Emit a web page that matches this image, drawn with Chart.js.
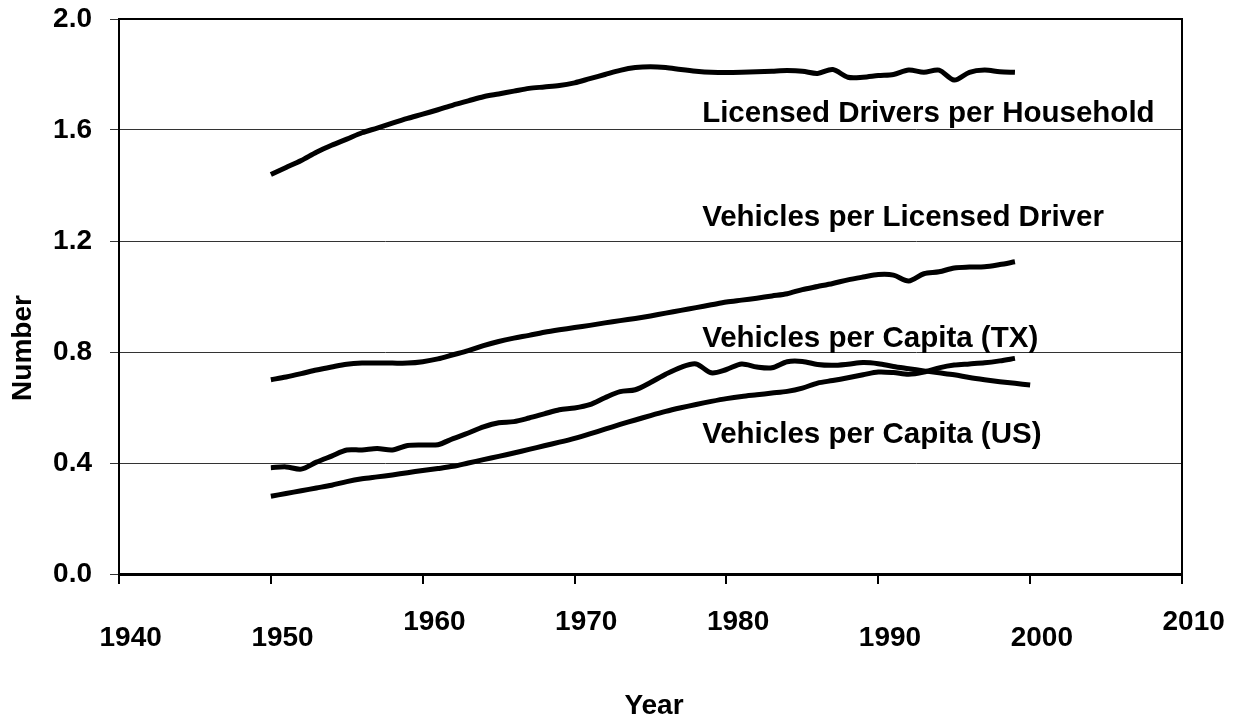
<!DOCTYPE html>
<html>
<head>
<meta charset="utf-8">
<script src="https://cdn.jsdelivr.net/npm/chart.js@4.4.1/dist/chart.umd.min.js"></script>
<style>
  html, body { margin: 0; padding: 0; background: #fff; }
  #wrap { width: 1239px; height: 720px; }
</style>
</head>
<body>
<div id="wrap"><canvas id="chart" width="1239" height="720"></canvas></div>
<script>
// years on the x axis
const years = [
  1950, 1951, 1952, 1953, 1954, 1955, 1956, 1957, 1958, 1959,
  1960, 1961, 1962, 1963, 1964, 1965, 1966, 1967, 1968, 1969,
  1970, 1971, 1972, 1973, 1974, 1975, 1976, 1977, 1978, 1979,
  1980, 1981, 1982, 1983, 1984, 1985, 1986, 1987, 1988, 1989,
  1990, 1991, 1992, 1993, 1994, 1995, 1996, 1997, 1998, 1999, 2000
];

// 1950-1999
const driversPerHousehold = [
  1.44, 1.465, 1.49, 1.52, 1.545, 1.567, 1.59, 1.607, 1.625, 1.642,
  1.657, 1.673, 1.69, 1.705, 1.72, 1.73, 1.74, 1.75, 1.755, 1.76,
  1.77, 1.785, 1.80, 1.815, 1.825, 1.828, 1.825, 1.818, 1.812, 1.808,
  1.807, 1.808, 1.81, 1.812, 1.814, 1.812, 1.804, 1.818, 1.79, 1.79,
  1.796, 1.80, 1.816, 1.808, 1.816, 1.78, 1.808, 1.816, 1.81, 1.808
];

// 1950-1999
const vehiclesPerDriver = [
  0.70, 0.71, 0.722, 0.735, 0.746, 0.756, 0.76, 0.76, 0.76, 0.76,
  0.765, 0.775, 0.79, 0.805, 0.823, 0.838, 0.85, 0.86, 0.871, 0.88,
  0.888, 0.896, 0.905, 0.913, 0.921, 0.93, 0.94, 0.95, 0.96, 0.97,
  0.98, 0.987, 0.994, 1.002, 1.01, 1.025, 1.036, 1.047, 1.06, 1.07,
  1.079, 1.077, 1.056, 1.082, 1.089, 1.103, 1.106, 1.107, 1.115, 1.125
];

// 1950-2000
const vehiclesPerCapitaTX = [
  0.383, 0.386, 0.378, 0.403, 0.425, 0.447, 0.447, 0.452, 0.447, 0.463,
  0.465, 0.466, 0.488, 0.508, 0.53, 0.545, 0.549, 0.562, 0.577, 0.592,
  0.598, 0.61, 0.635, 0.657, 0.664, 0.69, 0.72, 0.745, 0.757, 0.725,
  0.737, 0.757, 0.746, 0.743, 0.765, 0.766, 0.755, 0.752, 0.756, 0.762,
  0.758, 0.748, 0.74, 0.732, 0.725, 0.718, 0.708, 0.70, 0.693, 0.687, 0.681
];

// 1950-1999
const vehiclesPerCapitaUS = [
  0.28, 0.29, 0.30, 0.31, 0.32, 0.333, 0.343, 0.35, 0.357, 0.365,
  0.373, 0.38, 0.388, 0.40, 0.412, 0.424, 0.436, 0.449, 0.462, 0.475,
  0.489, 0.505, 0.522, 0.539, 0.555, 0.571, 0.586, 0.599, 0.611, 0.622,
  0.632, 0.64, 0.646, 0.652, 0.658, 0.67, 0.688, 0.697, 0.707, 0.718,
  0.728, 0.726, 0.72, 0.728, 0.743, 0.753, 0.757, 0.761, 0.768, 0.777
];

const seriesNames = [
  "Licensed Drivers per Household",
  "Vehicles per Licensed Driver",
  "Vehicles per Capita (TX)",
  "Vehicles per Capita (US)"
];

const xTicks = [1940, 1950, 1960, 1970, 1980, 1990, 2000, 2010];
const yTicks = [0, 0.4, 0.8, 1.2, 1.6, 2.0];
// these year labels sit a little higher in the original
const raisedTicks = [1960, 1970, 1980, 2010];

// where the series names are written (data units, left/baseline)
const notes = [
  { name: seriesNames[0], year: 1978.4, value: 1.629 },
  { name: seriesNames[1], year: 1978.4, value: 1.254 },
  { name: seriesNames[2], year: 1978.4, value: 0.818 },
  { name: seriesNames[3], year: 1978.4, value: 0.472 }
];

const FONT = "'Liberation Sans', Arial, sans-serif";

function toPoints(values) {
  return values.map((v, i) => ({ x: years[i], y: v }));
}

function lineSet(name, values) {
  return {
    label: name,
    data: toPoints(values),
    borderColor: "#000",
    borderWidth: 5,
    pointRadius: 0,
    tension: 0.3,
    fill: false
  };
}

// frame, series names and axis titles
const overlay = {
  id: "overlay",
  afterDraw(chart) {
    const { ctx, chartArea: a, scales } = chart;
    ctx.save();
    ctx.strokeStyle = "#000";
    ctx.lineWidth = 2;
    ctx.strokeRect(a.left, a.top, a.right - a.left, a.bottom - a.top);

    ctx.fillStyle = "#000";
    ctx.font = "bold 29.5px " + FONT;
    ctx.textAlign = "left";
    ctx.textBaseline = "alphabetic";
    notes.forEach((n) => {
      ctx.fillText(n.name, scales.x.getPixelForValue(n.year), scales.y.getPixelForValue(n.value));
    });

    ctx.font = "bold 28px " + FONT;
    ctx.textAlign = "center";
    ctx.textBaseline = "middle";
    ctx.fillText("Year", 654, 706);
    ctx.translate(23, 348);
    ctx.rotate(-Math.PI / 2);
    ctx.fillText("Number", 0, 0);
    ctx.restore();
  }
};

const ctx = document.getElementById("chart").getContext("2d");
new Chart(ctx, {
  type: "line",
  data: {
    datasets: [
      lineSet(seriesNames[0], driversPerHousehold),
      lineSet(seriesNames[1], vehiclesPerDriver),
      lineSet(seriesNames[2], vehiclesPerCapitaTX),
      lineSet(seriesNames[3], vehiclesPerCapitaUS)
    ]
  },
  options: {
    responsive: false,
    animation: false,
    layout: { padding: { top: 19, right: 57, left: 0, bottom: 0 } },
    plugins: {
      legend: { display: false },
      tooltip: { enabled: false }
    },
    scales: {
      x: {
        type: "linear",
        min: 1940,
        max: 2010,
        afterBuildTicks: (s) => { s.ticks = xTicks.map((v) => ({ value: v })); },
        afterFit: (s) => {
          s.height = 146;
          s.paddingLeft = 0;
          s.paddingRight = 0;
        },
        grid: { drawOnChartArea: false, drawTicks: true, tickLength: 10, color: "#000", lineWidth: 2 },
        border: { display: true, color: "#000", width: 3 },
        ticks: {
          padding: 30,
          color: "#000",
          maxRotation: 0,
          autoSkip: false,
          font: { family: FONT, weight: "bold", size: 28, lineHeight: "16px" },
          callback: (v) => raisedTicks.includes(v) ? "   " + v : ["", "   " + v]
        }
      },
      y: {
        min: 0,
        max: 2,
        afterBuildTicks: (s) => { s.ticks = yTicks.map((v) => ({ value: v })); },
        afterFit: (s) => {
          s.width = 119;
          s.paddingTop = 0;
          s.paddingBottom = 0;
        },
        grid: { color: "#333", lineWidth: 1, drawTicks: true, tickLength: 9 },
        border: { display: true, color: "#000", width: 2 },
        ticks: {
          padding: 18,
          color: "#000",
          font: { family: FONT, weight: "bold", size: 28 },
          callback: (v) => v.toFixed(1)
        }
      }
    }
  },
  plugins: [overlay]
});
</script>
</body>
</html>
